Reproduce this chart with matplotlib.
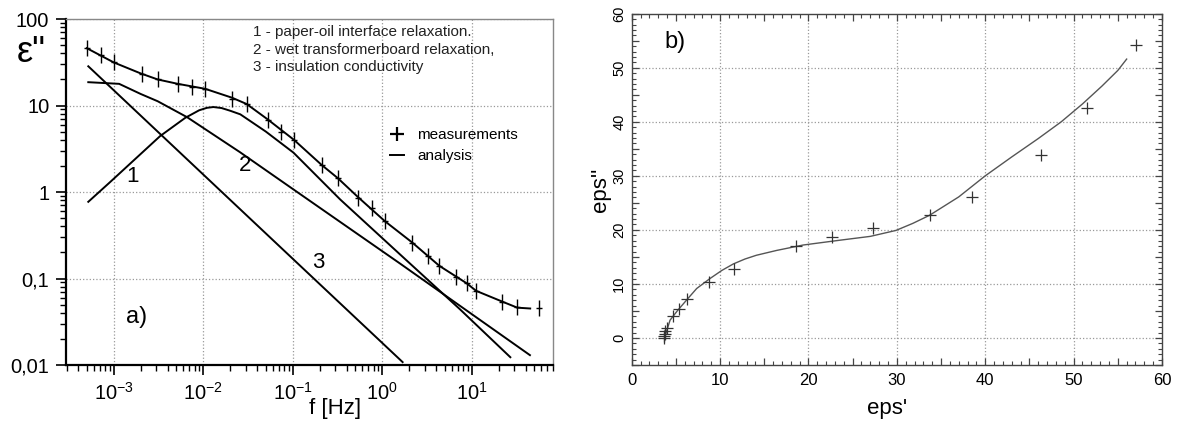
import matplotlib
matplotlib.use('Agg')
import matplotlib.pyplot as plt
import numpy as np
from matplotlib.path import Path
from matplotlib.lines import Line2D
from matplotlib.ticker import LogLocator, MultipleLocator, FuncFormatter, NullFormatter

plt.rcParams['font.family'] = ['Liberation Sans', 'DejaVu Sans']
plt.rcParams['mathtext.fontset'] = 'custom'
plt.rcParams['mathtext.rm'] = 'Liberation Sans'
plt.rcParams['mathtext.it'] = 'Liberation Sans:italic'
plt.rcParams['mathtext.default'] = 'regular'

# ---------------- panel a) data ----------------
meas_f = [5.0e-4, 7.3e-4, 1.0e-3, 2.06e-3, 3.1e-3, 5.2e-3, 7.4e-3, 1.05e-2, 2.1e-2, 3.06e-2,
          5.26e-2, 7.4e-2, 0.1035, 0.211, 0.318, 0.532, 0.764, 1.07, 2.17, 3.22,
          4.35, 6.62, 8.79, 11.2, 22.0, 32.3, 56.5]
meas_eps = [46.0, 38.7, 31.6, 23.4, 20.0, 17.9, 16.3, 15.7, 12.0, 10.3,
            6.77, 4.98, 3.95, 2.03, 1.47, 0.861, 0.648, 0.463, 0.256, 0.18,
            0.138, 0.105, 0.0877, 0.0721, 0.0538, 0.0464, 0.045]

total_f = [5.0e-4, 1.0e-3, 2.0e-3, 3.1e-3, 5.2e-3, 1.05e-2, 2.1e-2, 3.06e-2, 5.26e-2, 0.1035,
           0.211, 0.318, 0.532, 1.07, 2.17, 4.35, 8.79, 11.2, 22.0, 32.3, 45.0]
total_eps = [46.0, 31.5, 23.5, 20.0, 17.8, 15.6, 12.3, 10.4, 6.9, 4.0,
             2.05, 1.45, 0.88, 0.46, 0.26, 0.14, 0.088, 0.072, 0.054, 0.046, 0.045]

c1_f = [5.2e-4, 9.1e-4, 3.3e-3, 6.3e-3, 9.0e-3, 1.1e-2, 1.3e-2, 1.6e-2, 2.0e-2, 2.6e-2,
        5.0e-2, 0.102, 0.339, 1.58, 7.4, 27.0]
c1_eps = [0.77, 1.3, 4.43, 7.2, 8.8, 9.4, 9.6, 9.35, 8.7, 7.9,
          5.0, 2.85, 0.82, 0.19, 0.044, 0.0123]

c2_f = [5.2e-4, 1.15e-3, 2.0e-3, 3.1e-3, 6.6e-3, 2.57e-2, 0.102, 0.24, 1.58, 44.7]
c2_eps = [18.6, 17.8, 13.6, 11.2, 7.33, 2.89, 1.07, 0.578, 0.149, 0.013]

c3_f = [5.2e-4, 0.102, 1.69]
c3_eps = [28.4, 0.166, 0.0108]

xticks_a = [1e-3, 1e-2, 1e-1, 1e0, 1e1]
xtick_labels_a = ['$10^{-3}$', '$10^{-2}$', '$10^{-1}$', '$10^{0}$', '$10^{1}$']
yticks_a = [0.01, 0.1, 1, 10, 100]
ytick_labels_a = ['0,01', '0,1', '1', '10', '100']

notes = ['1 - paper-oil interface relaxation.',
         '2 - wet transformerboard relaxation,',
         '3 - insulation conductivity']

# ---------------- panel b) data ----------------
b_eps1 = [3.7, 3.7, 3.75, 3.8, 4.0, 4.7, 5.4, 6.3, 8.7, 11.6, 18.6, 22.7, 27.3, 33.7,
          38.5, 46.3, 51.5, 57.1]
b_eps2 = [0.0, 0.4, 0.8, 1.3, 1.9, 4.1, 5.4, 7.2, 10.3, 12.7, 17.0, 18.6, 20.3, 22.7,
          26.1, 33.9, 42.6, 54.3]

fit_eps1 = [3.8, 4.34, 5.2, 6.2, 7.35, 8.86, 10.2, 11.5, 12.8, 14.1, 16.4, 19.4, 23.6,
            27.0, 29.9, 31.8, 33.7, 37.0, 40.0, 43.0, 46.0, 48.6, 51.0, 53.2, 55.0, 56.0]
fit_eps2 = [0.5, 3.3, 5.1, 7.0, 9.15, 11.0, 12.5, 13.7, 14.6, 15.3, 16.2, 17.2, 18.1,
            18.8, 19.9, 21.2, 22.7, 26.1, 30.0, 33.5, 36.9, 40.0, 43.3, 46.6, 49.5, 51.6]

W, H = 1178, 423
fig = plt.figure(figsize=(W / 100, H / 100), dpi=100)

# ================= panel a =================
axA = fig.add_axes([66 / W, 1 - 365 / H, (553 - 66) / W, (365 - 19) / H])
axA.set_xscale('log')
axA.set_yscale('log')
axA.set_xlim(10 ** -3.533, 10 ** 1.908)
axA.set_ylim(0.01, 100)

lw = 1.4
axA.plot(total_f, total_eps, color='k', lw=lw)
axA.plot(c1_f, c1_eps, color='k', lw=lw)
axA.plot(c2_f, c2_eps, color='k', lw=lw)
axA.plot(c3_f, c3_eps, color='k', lw=lw)

cross = Path([(-0.45, 0), (0.45, 0), (0, -1), (0, 1)],
             [Path.MOVETO, Path.LINETO, Path.MOVETO, Path.LINETO])
axA.plot(meas_f, meas_eps, ls='none', marker=cross, ms=11, mew=1.0, color='k')

axA.set_xticks(xticks_a)
axA.set_xticklabels(xtick_labels_a)
axA.xaxis.set_minor_locator(LogLocator(base=10, subs=np.arange(2, 10) * 1.0, numticks=30))
axA.xaxis.set_minor_formatter(NullFormatter())
axA.set_yticks(yticks_a)
axA.set_yticklabels(ytick_labels_a)
axA.yaxis.set_minor_locator(LogLocator(base=10, subs=np.arange(2, 10) * 1.0, numticks=30))
axA.yaxis.set_minor_formatter(NullFormatter())
axA.tick_params(which='major', direction='out', length=7, width=1.2, labelsize=14.5, pad=5,
                top=False, right=False)
axA.tick_params(which='minor', direction='out', length=4, width=1.0, top=False, right=False)
axA.grid(True, which='major', ls=':', color='#999999', lw=0.9)
for s in ['left', 'bottom']:
    axA.spines[s].set_linewidth(1.6)
    axA.spines[s].set_color('k')
for s in ['top', 'right']:
    axA.spines[s].set_linewidth(1.0)
    axA.spines[s].set_color('#888888')

for i, t in enumerate(notes):
    axA.text((253 - 66) / 487, 1 - (32 + 17.5 * i - 19) / 346, t, transform=axA.transAxes,
             fontsize=11, ha='left', va='center', color='#222222')

axA.text((133 - 66) / 487, 1 - (176 - 19) / 346, '1', transform=axA.transAxes,
         fontsize=16, ha='center', va='center')
axA.text((245 - 66) / 487, 1 - (165 - 19) / 346, '2', transform=axA.transAxes,
         fontsize=16, ha='center', va='center')
axA.text((318 - 66) / 487, 1 - (262 - 19) / 346, '3', transform=axA.transAxes,
         fontsize=16, ha='center', va='center')
axA.text((137 - 66) / 487, 1 - (317 - 19) / 346, 'a)', transform=axA.transAxes,
         fontsize=17, ha='center', va='center')

handles = [Line2D([], [], ls='none', marker='+', ms=10, mew=1.6, color='k'),
           Line2D([], [], color='k', lw=1.4)]
axA.legend(handles, ['measurements', 'analysis'], loc='upper left',
           bbox_to_anchor=((390 - 66) / 487, 1 - (128 - 19) / 346), frameon=False,
           handlelength=0.9, handletextpad=0.9, labelspacing=0.45, fontsize=11,
           borderaxespad=0, borderpad=0)

fig.text(31 / W, 1 - 52 / H, 'ε"', fontsize=26, ha='center', va='center')
fig.text(335 / W, 1 - 408 / H, 'f [Hz]', fontsize=16, ha='center', va='center')

# ================= panel b =================
axB = fig.add_axes([631.7 / W, 1 - 365 / H, (1162 - 631.7) / W, (365 - 13.7) / H])
axB.set_xlim(0, 60)
axB.set_ylim(-5, 60)
axB.plot(fit_eps1, fit_eps2, color='#555555', lw=1.0)
axB.plot(b_eps1, b_eps2, ls='none', marker='+', ms=9, mew=0.9, color='#333333')

axB.xaxis.set_major_locator(MultipleLocator(5))
axB.xaxis.set_minor_locator(MultipleLocator(1))
axB.yaxis.set_major_locator(MultipleLocator(5))
axB.yaxis.set_minor_locator(MultipleLocator(1))
fmt = FuncFormatter(lambda v, p: ('%d' % round(v)) if abs(v % 10) < 1e-6 or abs(v % 10 - 10) < 1e-6 else '')
axB.xaxis.set_major_formatter(fmt)
axB.yaxis.set_major_formatter(fmt)
axB.tick_params(which='major', direction='in', length=5, width=0.9, top=True, right=True,
                color='#444444')
axB.tick_params(which='minor', direction='in', length=3, width=0.8, top=True, right=True,
                color='#444444')
axB.tick_params(axis='x', labelsize=12, pad=6)
axB.tick_params(axis='y', labelsize=10.5, pad=4)
for lab in axB.get_yticklabels():
    lab.set_rotation(90)
    lab.set_va('center')
for s in axB.spines.values():
    s.set_linewidth(1.0)
    s.set_color('#444444')
for v in range(10, 60, 10):
    axB.axvline(v, ls=':', color='#999999', lw=0.9, zorder=0)
for v in range(0, 60, 10):
    axB.axhline(v, ls=':', color='#999999', lw=0.9, zorder=0)

axB.text((675 - 631.7) / 530.3, 1 - (42 - 13.7) / 351.3, 'b)', transform=axB.transAxes,
         fontsize=17, ha='center', va='center')
fig.text(600 / W, 1 - 190 / H, "eps''", fontsize=16, ha='center', va='center', rotation=90)
fig.text(887 / W, 1 - 408 / H, "eps'", fontsize=16, ha='center', va='center')

fig.savefig('out.png', dpi=100)
